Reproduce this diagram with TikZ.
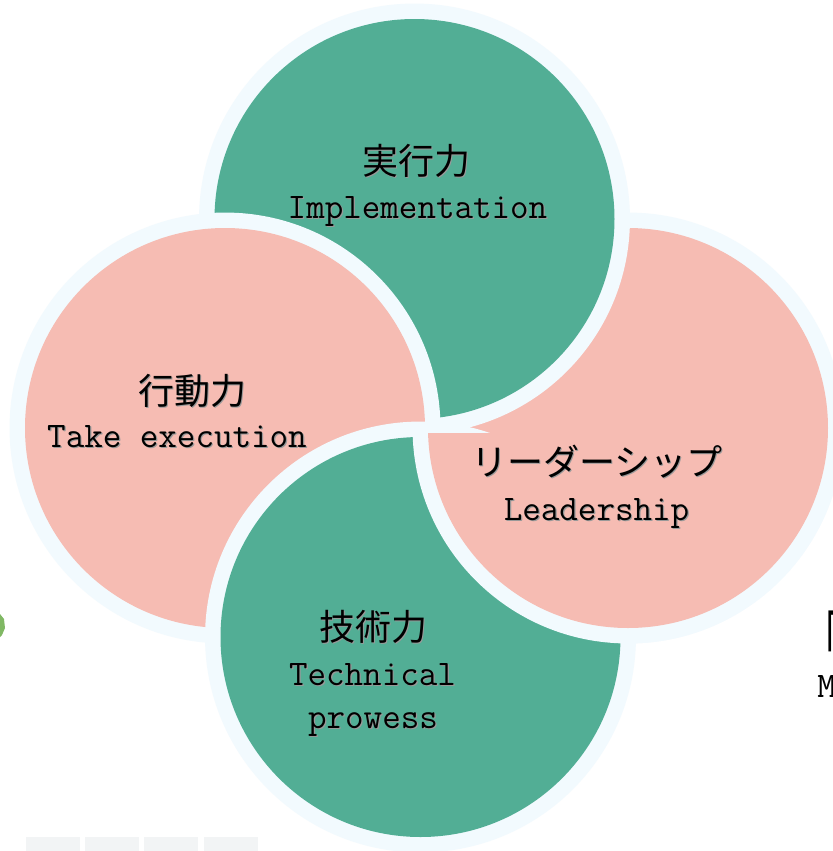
\documentclass[tikz,border=0pt]{standalone}
\usepackage{fontspec}
\newfontfamily\cjk{Noto Sans CJK JP}
\definecolor{ringc}{RGB}{242,250,254}
\definecolor{greenc}{RGB}{82,174,149}
\definecolor{pinkc}{RGB}{246,188,179}
\definecolor{leafc}{RGB}{128,184,100}
\definecolor{tilec}{RGB}{242,244,245}
\newcommand\shd[1]{\makebox[0pt][l]{\hspace{0.9pt}\raisebox{-0.9pt}{\color{black!40}#1}}#1}
\newcommand\disc[2]{%
  \fill[ringc] (#1) circle[radius=161.6pt];
  \fill[#2] (#1) circle[radius=150pt];}
\begin{document}
\begin{tikzpicture}[x=0.75pt,y=-0.75pt,
  jp/.style={inner sep=0pt,font=\cjk\fontsize{27}{32}\selectfont,text=black},
  en/.style={inner sep=0pt,anchor=base,font=\ttfamily\fontsize{27}{32}\selectfont,text=black}]
\useasboundingbox (0,0) rectangle (833,851);
\clip (0,0) rectangle (833,851);
\fill[white] (0,0) rectangle (833,851);
\coordinate (cT) at (414.5,219);
\coordinate (cL) at (225,428);
\coordinate (cR) at (628,428);
\coordinate (cB) at (420.5,637);
% faint tiles and leaf fragment
\foreach \x in {26,85,144,204}{\fill[tilec] (\x,837) rectangle ++(54,14);}
\fill[leafc] (0,614) -- (4,619) -- (5,628) -- (2,635) -- (0,637) -- cycle;
% interlocking circles
\disc{cR}{pinkc}
\disc{cT}{greenc}
\disc{cL}{pinkc}
\disc{cB}{greenc}
\begin{scope}
  \clip (380,433) rectangle (833,851);
  \disc{cR}{pinkc}
\end{scope}
% labels
\node[jp] (t1) at (416,161) {\shd{実行力}};
\node[en] (t2) at (417.5,218) {\shd{Implementation}};
\node[jp] (l1) at (192.5,391) {\shd{行動力}};
\node[en] (l2) at (177,447) {\shd{Take execution}};
\node[jp] (r1) at (597,462) {\shd{リーダーシップ}};
\node[en] (r2) at (596.5,520) {\shd{Leadership}};
\node[jp] (b1) at (373,627) {\shd{技術力}};
\node[en] (b2) at (372.5,685) {\shd{Technical}};
\node[en] (b3) at (373,728) {\shd{prowess}};
% clipped remnants at the right edge
\node[jp,anchor=base west] (x1) at (805,664) {\scalebox{1}[1.76]{「}};
\node[en,anchor=base west] (x2) at (817,697) {M};
\end{tikzpicture}
\end{document}
